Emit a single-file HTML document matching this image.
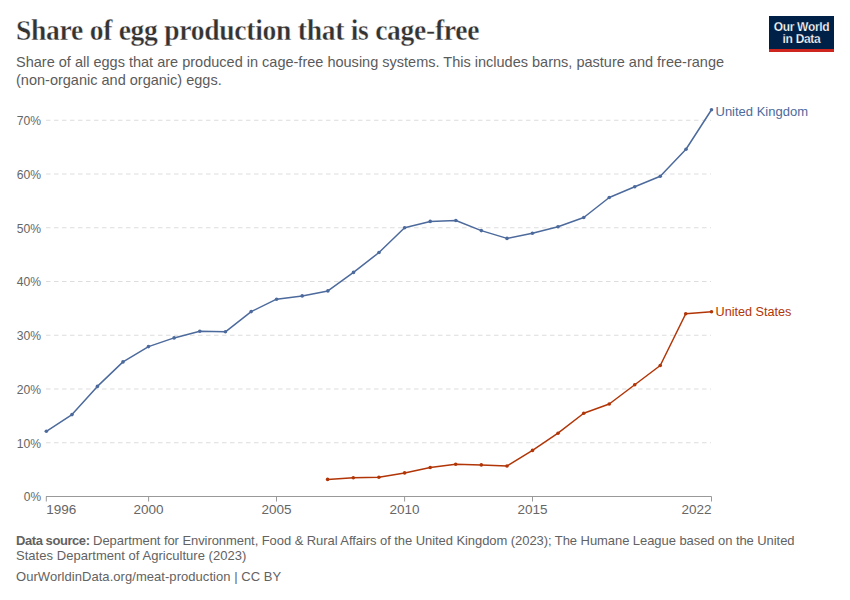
<!DOCTYPE html>
<html><head><meta charset="utf-8"><style>
html,body{margin:0;padding:0;background:#fff;}
body{width:850px;height:600px;position:relative;overflow:hidden;font-family:"Liberation Sans",sans-serif;}
.title{position:absolute;left:16px;top:12.2px;font-family:"Liberation Serif",serif;font-weight:bold;font-size:29px;letter-spacing:-0.3px;transform:scaleX(0.951);transform-origin:0 0;color:#333;-webkit-text-stroke:0.35px #fff;white-space:nowrap;line-height:36px;}
.sub{position:absolute;left:16px;top:52.5px;font-size:15px;transform:scaleX(0.9675);transform-origin:0 0;color:#5b5b5b;line-height:18px;white-space:nowrap;}
.logo{position:absolute;left:769px;top:16px;width:65px;height:36px;background:#002147;}
.logo .bar{position:absolute;left:0;bottom:0;width:65px;height:3px;background:#ce261e;}
.logo .t{position:absolute;left:0;top:5px;width:65px;text-align:center;color:#fff;font-weight:bold;font-size:12px;line-height:12px;letter-spacing:-0.3px;-webkit-text-stroke:0.25px #002147;}
.foot{position:absolute;left:16px;top:532.5px;font-size:13.5px;transform:scaleX(0.963);transform-origin:0 0;color:#626262;line-height:15.5px;white-space:nowrap;}
.url{position:absolute;left:16px;top:568.5px;letter-spacing:0.05px;font-size:13.5px;transform:scaleX(0.963);transform-origin:0 0;color:#626262;line-height:16px;white-space:nowrap;}
svg{position:absolute;left:0;top:0;}
svg text{font-family:"Liberation Sans",sans-serif;font-size:13.5px;fill:#666;}
</style></head><body>
<div class="title">Share of egg production that is cage-free</div>
<div class="sub">Share of all eggs that are produced in cage-free housing systems. This includes barns, pasture and free-range<br>(non-organic and organic) eggs.</div>
<div class="logo"><div class="t">Our World<br>in Data</div><div class="bar"></div></div>
<svg width="850" height="600" viewBox="0 0 850 600">
<line x1="46" y1="442.75" x2="711" y2="442.75" stroke="#ddd" stroke-width="1" stroke-dasharray="4.5,3.5"/>
<line x1="46" y1="389.00" x2="711" y2="389.00" stroke="#ddd" stroke-width="1" stroke-dasharray="4.5,3.5"/>
<line x1="46" y1="335.25" x2="711" y2="335.25" stroke="#ddd" stroke-width="1" stroke-dasharray="4.5,3.5"/>
<line x1="46" y1="281.50" x2="711" y2="281.50" stroke="#ddd" stroke-width="1" stroke-dasharray="4.5,3.5"/>
<line x1="46" y1="227.75" x2="711" y2="227.75" stroke="#ddd" stroke-width="1" stroke-dasharray="4.5,3.5"/>
<line x1="46" y1="174.00" x2="711" y2="174.00" stroke="#ddd" stroke-width="1" stroke-dasharray="4.5,3.5"/>
<line x1="46" y1="120.25" x2="711" y2="120.25" stroke="#ddd" stroke-width="1" stroke-dasharray="4.5,3.5"/>

<line x1="46" y1="496.5" x2="711.5" y2="496.5" stroke="#999" stroke-width="1"/>
<line x1="46.3" y1="496.5" x2="46.3" y2="501.5" stroke="#999" stroke-width="1"/>
<line x1="148.6" y1="496.5" x2="148.6" y2="501.5" stroke="#999" stroke-width="1"/>
<line x1="276.5" y1="496.5" x2="276.5" y2="501.5" stroke="#999" stroke-width="1"/>
<line x1="404.6" y1="496.5" x2="404.6" y2="501.5" stroke="#999" stroke-width="1"/>
<line x1="532.5" y1="496.5" x2="532.5" y2="501.5" stroke="#999" stroke-width="1"/>
<line x1="711.5" y1="496.5" x2="711.5" y2="501.5" stroke="#999" stroke-width="1"/>

<text x="41.1" y="501.30" text-anchor="end" textLength="17.3" lengthAdjust="spacingAndGlyphs">0%</text>
<text x="41.1" y="447.55" text-anchor="end" textLength="24.3" lengthAdjust="spacingAndGlyphs">10%</text>
<text x="41.1" y="393.80" text-anchor="end" textLength="24.3" lengthAdjust="spacingAndGlyphs">20%</text>
<text x="41.1" y="340.05" text-anchor="end" textLength="24.3" lengthAdjust="spacingAndGlyphs">30%</text>
<text x="41.1" y="286.30" text-anchor="end" textLength="24.3" lengthAdjust="spacingAndGlyphs">40%</text>
<text x="41.1" y="232.55" text-anchor="end" textLength="24.3" lengthAdjust="spacingAndGlyphs">50%</text>
<text x="41.1" y="178.80" text-anchor="end" textLength="24.3" lengthAdjust="spacingAndGlyphs">60%</text>
<text x="41.1" y="125.05" text-anchor="end" textLength="24.3" lengthAdjust="spacingAndGlyphs">70%</text>

<text x="46.3" y="514" text-anchor="start">1996</text>
<text x="148.6" y="514" text-anchor="middle">2000</text>
<text x="276.5" y="514" text-anchor="middle">2005</text>
<text x="404.6" y="514" text-anchor="middle">2010</text>
<text x="532.5" y="514" text-anchor="middle">2015</text>
<text x="711.5" y="514" text-anchor="end">2022</text>

<path d="M46.35,431.30 L72.00,414.60 L97.40,386.40 L123.00,361.90 L148.50,346.60 L174.10,337.90 L199.80,331.30 L225.40,331.80 L251.20,311.60 L276.60,299.20 L302.20,295.90 L327.90,290.90 L353.50,272.40 L379.00,252.50 L404.60,227.80 L430.20,221.40 L455.90,220.50 L481.30,230.60 L507.00,238.40 L532.40,233.20 L558.00,226.80 L583.75,217.50 L609.25,197.50 L634.75,186.75 L660.25,176.25 L686.00,149.25 L711.50,109.75" fill="none" stroke="#4C6A9C" stroke-width="1.5" stroke-linejoin="round" stroke-linecap="round"/>
<circle cx="46.35" cy="431.30" r="1.8" fill="#4C6A9C"/><circle cx="72.00" cy="414.60" r="1.8" fill="#4C6A9C"/><circle cx="97.40" cy="386.40" r="1.8" fill="#4C6A9C"/><circle cx="123.00" cy="361.90" r="1.8" fill="#4C6A9C"/><circle cx="148.50" cy="346.60" r="1.8" fill="#4C6A9C"/><circle cx="174.10" cy="337.90" r="1.8" fill="#4C6A9C"/><circle cx="199.80" cy="331.30" r="1.8" fill="#4C6A9C"/><circle cx="225.40" cy="331.80" r="1.8" fill="#4C6A9C"/><circle cx="251.20" cy="311.60" r="1.8" fill="#4C6A9C"/><circle cx="276.60" cy="299.20" r="1.8" fill="#4C6A9C"/><circle cx="302.20" cy="295.90" r="1.8" fill="#4C6A9C"/><circle cx="327.90" cy="290.90" r="1.8" fill="#4C6A9C"/><circle cx="353.50" cy="272.40" r="1.8" fill="#4C6A9C"/><circle cx="379.00" cy="252.50" r="1.8" fill="#4C6A9C"/><circle cx="404.60" cy="227.80" r="1.8" fill="#4C6A9C"/><circle cx="430.20" cy="221.40" r="1.8" fill="#4C6A9C"/><circle cx="455.90" cy="220.50" r="1.8" fill="#4C6A9C"/><circle cx="481.30" cy="230.60" r="1.8" fill="#4C6A9C"/><circle cx="507.00" cy="238.40" r="1.8" fill="#4C6A9C"/><circle cx="532.40" cy="233.20" r="1.8" fill="#4C6A9C"/><circle cx="558.00" cy="226.80" r="1.8" fill="#4C6A9C"/><circle cx="583.75" cy="217.50" r="1.8" fill="#4C6A9C"/><circle cx="609.25" cy="197.50" r="1.8" fill="#4C6A9C"/><circle cx="634.75" cy="186.75" r="1.8" fill="#4C6A9C"/><circle cx="660.25" cy="176.25" r="1.8" fill="#4C6A9C"/><circle cx="686.00" cy="149.25" r="1.8" fill="#4C6A9C"/><circle cx="711.50" cy="109.75" r="1.8" fill="#4C6A9C"/>

<path d="M327.60,479.40 L353.30,477.70 L378.90,477.30 L404.60,472.90 L430.20,467.50 L455.70,464.20 L481.30,464.90 L507.00,466.05 L532.50,450.40 L558.00,433.20 L583.75,413.25 L609.25,404.00 L634.75,384.75 L660.25,365.50 L685.75,313.75 L711.50,311.75" fill="none" stroke="#B13507" stroke-width="1.5" stroke-linejoin="round" stroke-linecap="round"/>
<circle cx="327.60" cy="479.40" r="1.8" fill="#B13507"/><circle cx="353.30" cy="477.70" r="1.8" fill="#B13507"/><circle cx="378.90" cy="477.30" r="1.8" fill="#B13507"/><circle cx="404.60" cy="472.90" r="1.8" fill="#B13507"/><circle cx="430.20" cy="467.50" r="1.8" fill="#B13507"/><circle cx="455.70" cy="464.20" r="1.8" fill="#B13507"/><circle cx="481.30" cy="464.90" r="1.8" fill="#B13507"/><circle cx="507.00" cy="466.05" r="1.8" fill="#B13507"/><circle cx="532.50" cy="450.40" r="1.8" fill="#B13507"/><circle cx="558.00" cy="433.20" r="1.8" fill="#B13507"/><circle cx="583.75" cy="413.25" r="1.8" fill="#B13507"/><circle cx="609.25" cy="404.00" r="1.8" fill="#B13507"/><circle cx="634.75" cy="384.75" r="1.8" fill="#B13507"/><circle cx="660.25" cy="365.50" r="1.8" fill="#B13507"/><circle cx="685.75" cy="313.75" r="1.8" fill="#B13507"/><circle cx="711.50" cy="311.75" r="1.8" fill="#B13507"/>

<text x="715.5" y="116" style="fill:#4C6A9C;font-size:13px">United Kingdom</text>
<text x="715.5" y="316.2" style="fill:#B13507;font-size:12.65px">United States</text>
</svg>
<div class="foot"><span style="letter-spacing:-0.07px"><b style="letter-spacing:-0.45px">Data source:</b> Department for Environment, Food &amp; Rural Affairs of the United Kingdom (2023); The Humane League based on the United</span><br><span style="letter-spacing:0.035px">States Department of Agriculture (2023)</span></div>
<div class="url">OurWorldinData.org/meat-production | CC BY</div>
</body></html>
